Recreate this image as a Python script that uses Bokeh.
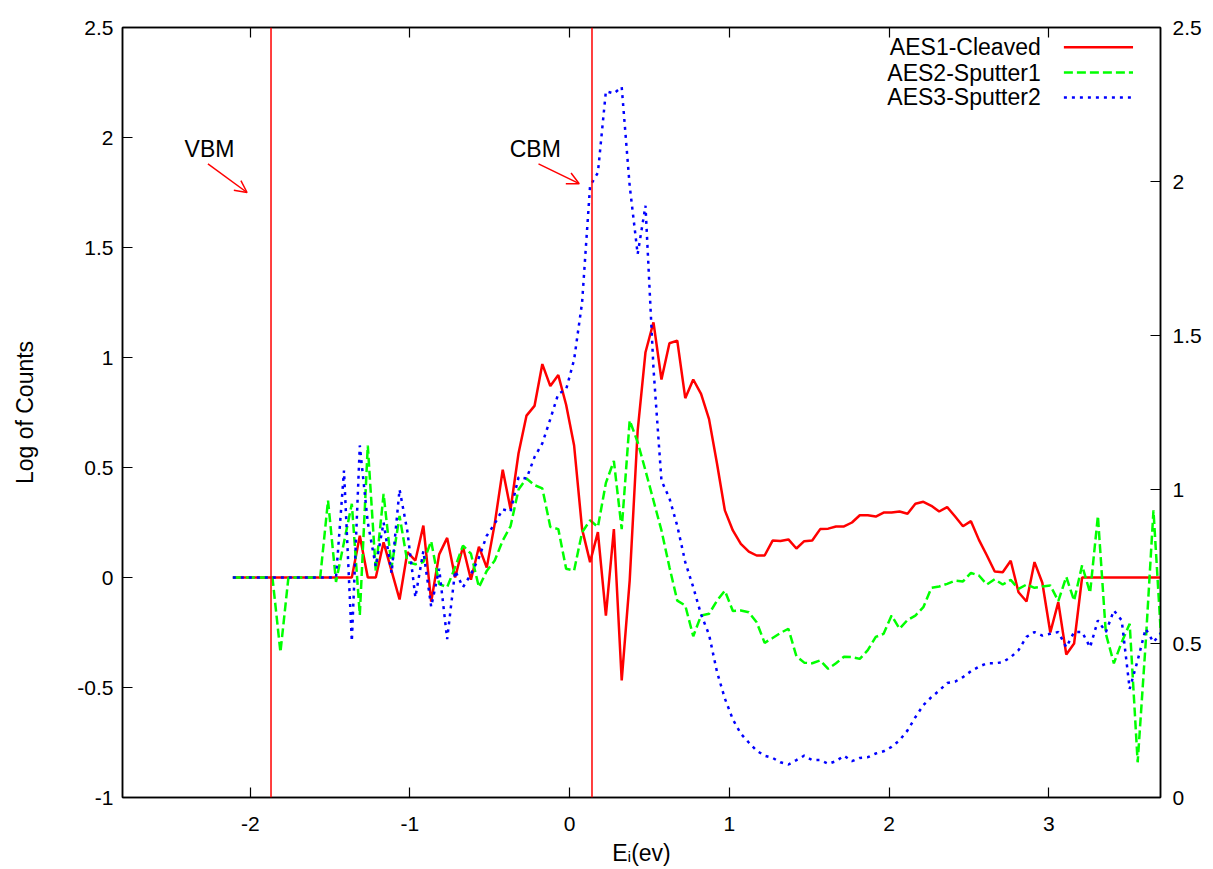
from bokeh.plotting import figure
from bokeh.models import Range1d, LinearAxis, FixedTicker, Span, Label, Arrow, OpenHead
from bokeh.embed import file_html
from bokeh.resources import INLINE

# ---------------- data ----------------
energy = [
    -2.109, -2.059, -2.010, -1.960, -1.910, -1.861, -1.811, -1.761, -1.711, -1.662,
    -1.612, -1.562, -1.513, -1.463, -1.413, -1.364, -1.314, -1.264, -1.214, -1.165,
    -1.115, -1.065, -1.016, -0.966, -0.916, -0.867, -0.817, -0.767, -0.717, -0.668,
    -0.618, -0.568, -0.519, -0.469, -0.419, -0.370, -0.320, -0.270, -0.220, -0.171,
    -0.121, -0.071, -0.022, 0.028, 0.078, 0.128, 0.177, 0.227, 0.277, 0.326,
    0.376, 0.426, 0.475, 0.525, 0.575, 0.625, 0.674, 0.724, 0.774, 0.823,
    0.873, 0.923, 0.972, 1.022, 1.072, 1.122, 1.171, 1.221, 1.271, 1.320,
    1.370, 1.420, 1.469, 1.519, 1.569, 1.619, 1.668, 1.718, 1.768, 1.817,
    1.867, 1.917, 1.966, 2.016, 2.066, 2.116, 2.165, 2.215, 2.265, 2.314,
    2.364, 2.414, 2.463, 2.513, 2.563, 2.613, 2.662, 2.712, 2.762, 2.811,
    2.861, 2.911, 2.960, 3.010, 3.060, 3.110, 3.159, 3.209, 3.259, 3.308,
    3.358, 3.408, 3.457, 3.507, 3.557, 3.607, 3.656, 3.706,
]

aes1_cleaved = [
    0, 0, 0, 0, 0, 0, 0, 0, 0, 0,
    0, 0, 0, 0, 0, 0, 0.19, 0, 0, 0.16,
    0.03, -0.10, 0.115, 0.077, 0.236, -0.11, 0.105, 0.18, 0.0, 0.14,
    -0.01, 0.14, 0.045, 0.245, 0.49, 0.31, 0.565, 0.736, 0.78, 0.97,
    0.87, 0.92, 0.785, 0.60, 0.22, 0.07, 0.206, -0.173, 0.22, -0.468,
    -0.014, 0.668, 1.024, 1.16, 0.90, 1.065, 1.077, 0.815, 0.90, 0.835,
    0.72, 0.517, 0.305, 0.214, 0.153, 0.118, 0.10, 0.10, 0.168, 0.166,
    0.173, 0.132, 0.165, 0.168, 0.22, 0.222, 0.232, 0.232, 0.25, 0.283,
    0.283, 0.277, 0.295, 0.295, 0.30, 0.29, 0.335, 0.344, 0.326, 0.30,
    0.32, 0.277, 0.233, 0.256, 0.171, 0.10, 0.027, 0.024, 0.076, -0.067,
    -0.109, 0.07, -0.024, -0.25, -0.112, -0.35, -0.30, 0, 0, 0,
    0, 0, 0, 0, 0, 0, 0, 0,
]

aes2_sputter1 = [
    0, 0, 0, 0, 0, 0, -0.34, 0, 0, 0,
    0, 0, 0.35, -0.02, 0.16, 0.335, -0.17, 0.60, 0.03, 0.38,
    0.047, 0.28, 0.07, 0.06, 0.07, 0.165, -0.03, -0.044, 0.047, 0.145,
    0.108, -0.044, 0.03, 0.077, 0.168, 0.233, 0.40, 0.45, 0.42, 0.405,
    0.23, 0.22, 0.04, 0.032, 0.205, 0.26, 0.23, 0.43, 0.53, 0.22,
    0.714, 0.615, 0.486, 0.35, 0.214, 0.047, -0.105, -0.127, -0.267, -0.173,
    -0.165, -0.105, -0.06, -0.152, -0.15, -0.158, -0.203, -0.297, -0.275, -0.252,
    -0.233, -0.358, -0.387, -0.39, -0.377, -0.415, -0.39, -0.36, -0.362, -0.37,
    -0.33, -0.27, -0.256, -0.173, -0.233, -0.193, -0.173, -0.135, -0.047, -0.041,
    -0.029, -0.014, -0.018, 0.021, 0.009, -0.032, -0.008, -0.032, -0.011, -0.052,
    -0.032, -0.047, -0.041, -0.036, -0.107, 0.003, -0.105, 0.055, -0.07, 0.28,
    -0.256, -0.39, -0.294, -0.21, -0.84, -0.3, 0.305, -0.30,
]

aes3_sputter2 = [
    0, 0, 0, 0, 0, 0, 0, 0, 0, 0,
    0, 0, 0, 0, 0.486, -0.29, 0.60, 0.25, 0.05, 0.25,
    0.02, 0.40, 0.21, -0.09, 0.12, -0.133, 0.04, -0.28, 0.03, -0.044,
    0.015, 0.09, 0.19, 0.245, 0.31, 0.30, 0.456, 0.45, 0.547, 0.61,
    0.72, 0.835, 0.855, 0.99, 1.25, 1.78, 1.84, 2.21, 2.20, 2.23,
    1.78, 1.47, 1.69, 0.95, 0.44, 0.36, 0.235, 0.07, -0.044, -0.168,
    -0.26, -0.43, -0.55, -0.645, -0.71, -0.75, -0.787, -0.81, -0.82, -0.84,
    -0.85, -0.83, -0.81, -0.83, -0.83, -0.847, -0.835, -0.81, -0.835, -0.82,
    -0.817, -0.80, -0.79, -0.77, -0.74, -0.695, -0.635, -0.58, -0.544, -0.514,
    -0.48, -0.473, -0.453, -0.426, -0.405, -0.39, -0.39, -0.385, -0.362, -0.33,
    -0.27, -0.248, -0.264, -0.256, -0.248, -0.317, -0.248, -0.248, -0.317, -0.195,
    -0.248, -0.15, -0.195, -0.506, -0.377, -0.233, -0.294, -0.25,
]

series_names = ["AES1-Cleaved", "AES2-Sputter1", "AES3-Sputter2"]
vbm_energy = -1.87
cbm_energy = 0.14

x_ticks = [-2, -1, 0, 1, 2, 3]
y_ticks = [-1, -0.5, 0, 0.5, 1, 1.5, 2, 2.5]
y2_ticks = [0, 0.5, 1, 1.5, 2, 2.5]

# ---------------- styles ----------------
FONT = "Liberation Sans"
TICK_FS = "21px"
LABEL_FS = "23px"
colors = ["#ff0000", "#00ff00", "#0000ff"]
dashes = ["solid", "9 4", "3 5"]


def fmt(v):
    return ("%g" % v)


p = figure(width=1213, height=869,
           x_range=Range1d(-2.8, 3.7), y_range=Range1d(-1, 2.5),
           output_backend="svg", toolbar_location=None,
           min_border_left=122, min_border_right=53,
           min_border_top=27, min_border_bottom=72,
           x_axis_label="E\u1d62(ev)", y_axis_label="Log of Counts")
p.extra_y_ranges = {"y2": Range1d(0, 2.5)}

p.xgrid.grid_line_color = None
p.ygrid.grid_line_color = None
p.outline_line_color = "black"
p.outline_line_width = 1.5
p.background_fill_color = "white"
p.border_fill_color = "white"

right_axis = LinearAxis(y_range_name="y2")
p.add_layout(right_axis, "right")
top_axis = LinearAxis()
p.add_layout(top_axis, "above")

bottom_axis = p.below[0]
left_axis = p.left[0]

for ax in [bottom_axis, left_axis, right_axis, top_axis]:
    ax.axis_line_color = "black"
    ax.axis_line_width = 1.5
    ax.major_tick_line_color = "black"
    ax.major_tick_line_width = 1.2
    ax.major_tick_in = 10
    ax.major_tick_out = 0
    ax.minor_tick_line_color = None
    ax.major_label_text_font = FONT
    ax.major_label_text_font_size = TICK_FS
    ax.major_label_text_color = "black"
    ax.axis_label_text_font = FONT
    ax.axis_label_text_font_size = LABEL_FS
    ax.axis_label_text_font_style = "normal"
    ax.axis_label_text_color = "black"

bottom_axis.ticker = FixedTicker(ticks=x_ticks)
bottom_axis.major_label_overrides = {t: fmt(t) for t in x_ticks}
bottom_axis.major_label_standoff = 19
bottom_axis.axis_label_standoff = 6

top_axis.ticker = FixedTicker(ticks=x_ticks)
top_axis.major_label_overrides = {t: "" for t in x_ticks}
top_axis.major_label_standoff = 0

left_axis.ticker = FixedTicker(ticks=y_ticks)
left_axis.major_label_overrides = {t: fmt(t) for t in y_ticks}
left_axis.major_label_standoff = 9
left_axis.axis_label_standoff = 36

right_axis.ticker = FixedTicker(ticks=y2_ticks)
right_axis.major_label_overrides = {t: fmt(t) for t in y2_ticks}
right_axis.major_label_standoff = 12

# data lines
for ys, c, d in zip([aes1_cleaved, aes2_sputter1, aes3_sputter2], colors, dashes):
    p.line(energy, ys, line_color=c, line_width=2.5, line_dash=d)

# VBM / CBM markers
for e in [vbm_energy, cbm_energy]:
    p.add_layout(Span(location=e, dimension="height", line_color="#ff0000", line_width=1.5))

for txt, tx, ax0, ay0, ax1, ay1 in [("VBM", -2.255, -2.265, 1.88, -2.02, 1.75),
                                     ("CBM", -0.215, -0.195, 1.88, 0.06, 1.79)]:
    p.add_layout(Label(x=tx, y=1.95, text=txt, text_align="center", text_baseline="middle",
                       text_font=FONT, text_font_size=LABEL_FS, text_color="black"))
    p.add_layout(Arrow(x_start=ax0, y_start=ay0, x_end=ax1, y_end=ay1,
                       line_color="#ff0000", line_width=1.5,
                       end=OpenHead(line_color="#ff0000", line_width=1.5, size=12)))

# key (top right): text then line sample
key_rows = [2.41, 2.295, 2.182]
for name, c, d, ky in zip(series_names, colors, dashes, key_rows):
    p.add_layout(Label(x=2.95, y=ky, text=name, text_align="right", text_baseline="middle",
                       text_font=FONT, text_font_size=LABEL_FS, text_color="black"))
    p.add_layout(Arrow(x_start=3.095, y_start=ky, x_end=3.528, y_end=ky, end=None,
                       line_color=c, line_width=2.5, line_dash=d))

open("out.html", "w").write(file_html(p, INLINE))
